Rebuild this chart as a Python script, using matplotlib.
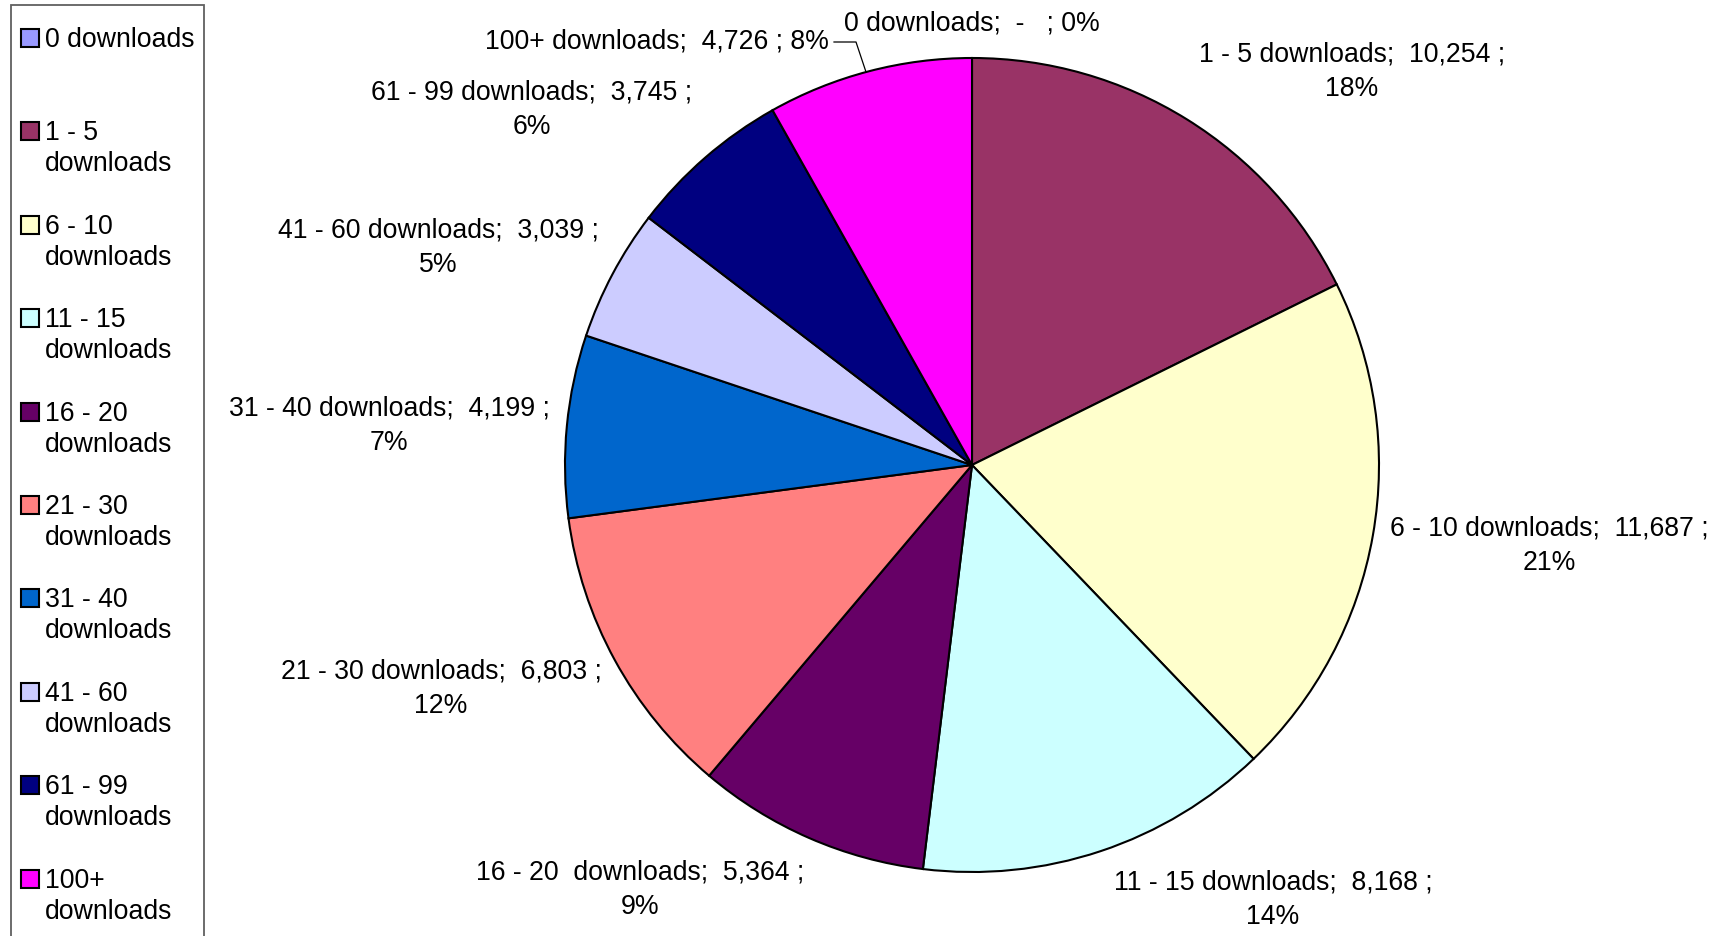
import matplotlib.pyplot as plt
from matplotlib.patches import Rectangle

plt.rcParams['font.family'] = ['Liberation Sans', 'DejaVu Sans']

# Dados
categorias = ['0 downloads', '1 - 5 downloads', '6 - 10 downloads', '11 - 15 downloads',
              '16 - 20  downloads', '21 - 30 downloads', '31 - 40 downloads',
              '41 - 60 downloads', '61 - 99 downloads', '100+ downloads']
legenda = ['0 downloads', '1 - 5\ndownloads', '6 - 10\ndownloads', '11 - 15\ndownloads',
           '16 - 20\ndownloads', '21 - 30\ndownloads', '31 - 40\ndownloads',
           '41 - 60\ndownloads', '61 - 99\ndownloads', '100+\ndownloads']
valores = [0, 10254, 11687, 8168, 5364, 6803, 4199, 3039, 3745, 4726]
percentuais = ['0%', '18%', '21%', '14%', '9%', '12%', '7%', '5%', '6%', '8%']
cores = ['#9999FF', '#993366', '#FFFFCC', '#CCFFFF', '#660066',
         '#FF8080', '#0066CC', '#CCCCFF', '#000080', '#FF00FF']

# Layout (pixels da imagem, y para baixo)
W, H = 1724, 936
centro = (972, 465)
raio = 407
pos_rotulos = [(972, 23, 'center', False), (1352, 72, 'center', True),
               (1549, 546, 'center', True), (1273, 900, 'center', True),
               (640, 890, 'center', True), (441, 689, 'center', True),
               (389, 426, 'center', True), (438, 248, 'center', True),
               (532, 110, 'center', True), (829, 41, 'right', False)]
FS = 19.2
LS = 1.43


def Y(py):
    return H - py


fig = plt.figure(figsize=(W / 100, H / 100), dpi=100)
ax = fig.add_axes([0, 0, 1, 1])

ax.pie(valores, colors=cores, center=(centro[0], Y(centro[1])), radius=raio,
       startangle=90, counterclock=False,
       wedgeprops=dict(edgecolor='black', linewidth=1.5))
ax.set_xlim(0, W)
ax.set_ylim(0, H)
ax.set_aspect('equal')
ax.axis('off')

# Rótulos de dados
for i, (x, y, ha, quebra) in enumerate(pos_rotulos):
    v = f'{valores[i]:,}' if valores[i] > 0 else '-  '
    sep = '\n' if quebra else ' '
    txt = f'{categorias[i]};  {v} ;{sep}{percentuais[i]}'
    ax.text(x, Y(y), txt, ha=ha, va='center', fontsize=FS, linespacing=LS,
            multialignment='center')

# linha guia do 100+
ax.plot([834, 856, 866], [Y(42), Y(42), Y(72)], color='black', lw=0.9)

# Legenda
ax.add_patch(Rectangle((11, Y(960)), 193, 955, facecolor='white',
                       edgecolor='#606060', lw=1.3, clip_on=False))
for i, (lab, c) in enumerate(zip(legenda, cores)):
    cy = 38 + 93.4 * i
    ax.add_patch(Rectangle((21, Y(cy + 9)), 18, 18, facecolor=c,
                           edgecolor='black', lw=1.5))
    for k, linha in enumerate(lab.split('\n')):
        ax.text(45, Y(cy + 9 + 31 * k), linha, ha='left', va='baseline',
                fontsize=FS)

fig.savefig('out.png', dpi=100)
